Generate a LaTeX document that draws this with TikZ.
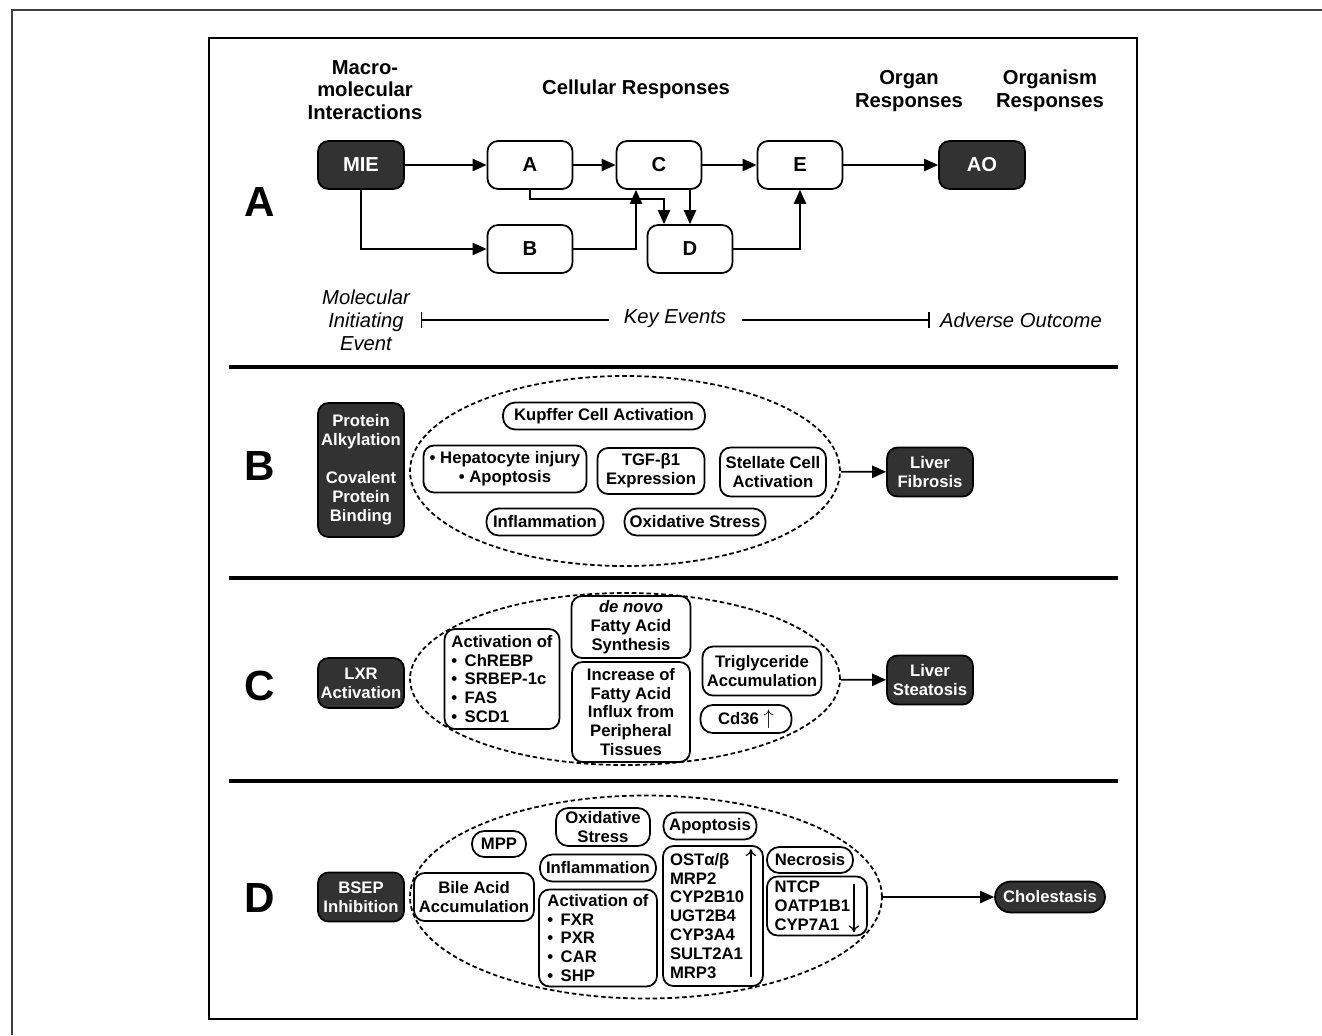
\documentclass[tikz,border=0pt]{standalone}
\usepackage{fontspec}
\setmainfont{Liberation Sans}
\usetikzlibrary{shapes.geometric,arrows.meta,positioning,calc}
\definecolor{boxgray}{RGB}{50,50,50}

\begin{document}
\begin{tikzpicture}[
    x=0.02cm, y=-0.02cm,
    every node/.style = {inner sep=1pt},
    wh/.style 2 args = {minimum width=#1*0.02cm, minimum height=#2*0.02cm},
    hdr/.style = {font=\fontsize{11.5}{13}\selectfont\bfseries, align=center},
    note/.style = {font=\fontsize{11.5}{13}\selectfont\itshape, align=center},
    panel/.style = {font=\fontsize{24}{26}\selectfont\bfseries},
    big/.style = {font=\fontsize{11.5}{13}\selectfont\bfseries},
    small/.style = {font=\fontsize{9.5}{10.8}\selectfont\bfseries},
    mie/.style = {draw=black, fill=boxgray, text=white, rounded corners=6pt, line width=1pt, align=center},
    ke/.style = {draw=black, fill=white, rounded corners=6pt, line width=1pt, align=center},
    pill/.style = {ke, rounded corners=7pt},
    group/.style = {ellipse, draw, dash pattern=on 2.6pt off 1.6pt, line width=1pt, inner sep=0pt},
    flow/.style = {-{Triangle[length=8pt,width=7pt]}, line width=1pt},
    span/.style = {line width=1pt},
    updown/.style = {-{To[length=4pt,width=6pt]}, line width=0.7pt},
    sep/.style = {line width=2pt}
    ]
    \useasboundingbox (0,0) rectangle (1322,1035);
    \draw[line width=0.8pt, draw=black!75] (12,1035) -- (12,10) -- (1322,10);
    \draw[line width=1.2pt] (209,38) rectangle (1137,1019);

    % A
    \node[panel] (labA) at (260,202) {A};
    \node[hdr] (h1) at (365,90) {Macro-\\molecular\\Interactions};
    \node[hdr] (h2) at (636,89) {Cellular Responses};
    \node[hdr] (h3) at (909,91) {Organ\\Responses};
    \node[hdr] (h4) at (1050,91) {Organism\\Responses};
    \node[mie, big, wh={86}{48}] (mie) at (361,165) {MIE};
    \node[ke, big, wh={85}{48}] (a) at (530,165) {A};
    \node[ke, big, wh={85}{48}] (c) at (659,165) {C};
    \node[ke, big, wh={85}{48}] (e) at (800,165) {E};
    \node[mie, big, wh={86}{48}] (ao) at (982,165) {AO};
    \node[ke, big, wh={85}{48}] (b) at (530,249) {B};
    \node[ke, big, wh={85}{48}] (d) at (690,249) {D};
    \node[note] (mielbl) at (366,320) {Molecular\\Initiating\\Event};
    \node[note] (kelbl) at (675,319) {Key Events};
    \node[note, anchor=west] (aolbl) at (938,320) {Adverse Outcome};

    \draw[flow] (mie) -- (a);
    \draw[flow] (mie) |- (b);
    \draw[flow] (a) -- (c);
    \draw[flow] (c) -- (e);
    \draw[flow] (e) -- (ao);
    \draw[flow] (a.south) -- ++(0,9) -| ([xshift=-0.52cm]d.north);
    \draw[flow] (c.south -| d.north) -- (d.north);
    \draw[flow] (b.east) -| ([xshift=-0.46cm]c.south);
    \draw[flow] (d.east) -| (e.south);
    \draw[span, {Bar[width=9pt]}-, shorten <=5pt, shorten >=7.4pt] (mielbl.east) -- (mielbl.east -| kelbl.west);
    \draw[span, -{Bar[width=9pt]}, shorten <=8pt, shorten >=4.5pt] (kelbl.east |- aolbl.west) -- (aolbl.west);

    \draw[sep] (229,367) -- (1118,367);
    \draw[sep] (229,578) -- (1118,578);
    \draw[sep] (229,781) -- (1118,781);

    % B
    \node[panel] (labB) at (260,466) {B};
    \node[mie, small, wh={86}{134}] (alk) at (361,470) {Protein\\Alkylation\\[10.8pt]Covalent\\Protein\\Binding};
    \node[group, wh={430}{190}] (grpB) at (625,471) {};
    \node[pill, small, wh={202}{27}] (kup) at (604,416) {Kupffer Cell Activation};
    \node[ke, small, wh={163}{47}] (hep) at (505,469) {• Hepatocyte injury\\• Apoptosis};
    \node[ke, small, wh={107}{46}] (tgf) at (651,471) {TGF-β1\\Expression};
    \node[ke, small, wh={106}{49}] (stel) at (773,472) {Stellate Cell\\Activation};
    \node[pill, small, wh={117}{27}] (infl) at (545,522) {Inflammation};
    \node[pill, small, wh={141}{27}] (oxs) at (695,522) {Oxidative Stress};
    \node[mie, small, wh={86}{49}] (fib) at (930,472) {Liver\\Fibrosis};
    \draw[flow] (grpB) -- (fib);

    % C
    \node[panel] (labC) at (260,686) {C};
    \node[mie, small, wh={86}{50}] (lxr) at (361,683) {LXR\\Activation};
    \node[group, wh={430}{172}] (grpC) at (625,679) {};
    \node[ke, small, wh={115}{100}, align=left] (actC) at (502,679) {Activation of\\•\, ChREBP\\•\, SRBEP-1c\\•\, FAS\\•\, SCD1};
    \node[ke, small, wh={119}{62}] (dnv) at (631,627) {\textit{de novo}\\Fatty Acid\\Synthesis};
    \node[ke, small, wh={118}{100}] (inc) at (631,712) {Increase of\\Fatty Acid\\Influx from\\Peripheral\\Tissues};
    \node[ke, small, wh={119}{49}] (tri) at (762,671) {Triglyceride\\Accumulation};
    \node[pill, small, wh={91}{28}] (cd) at (746,719) {Cd36 {\fontsize{13}{13}\selectfont$\uparrow$}};
    \node[mie, small, wh={86}{49}] (ste) at (930,680) {Liver\\Steatosis};
    \draw[flow] (grpC) -- (ste);

    % D
    \node[panel] (labD) at (260,898) {D};
    \node[mie, small, wh={86}{49}] (bsep) at (361,897) {BSEP\\Inhibition};
    \node[group, wh={472}{203}] (grpD) at (646,897) {};
    \node[pill, small, wh={54}{26}] (mpp) at (499,844) {MPP};
    \node[pill, small, wh={94}{38}] (oxD) at (603,827) {Oxidative\\Stress};
    \node[pill, small, wh={93}{27}] (apo) at (710,826) {Apoptosis};
    \node[pill, small, wh={116}{27}] (inflD) at (598,868) {Inflammation};
    \node[ke, small, wh={120}{48}] (bile) at (474,897) {Bile Acid\\Accumulation};
    \node[ke, small, wh={118}{97}, align=left] (actD) at (598,938) {Activation of\\•\, FXR\\•\, PXR\\•\, CAR\\•\, SHP};
    \node[ke, small, wh={100}{140}, align=left, text width=1.72cm] (upr) at (713,916) {OSTα/β\\MRP2\\CYP2B10\\UGT2B4\\CYP3A4\\SULT2A1\\MRP3};
    \node[pill, small, wh={86}{26}] (nec) at (810,860) {Necrosis};
    \node[ke, small, wh={100}{59}, align=left, text width=1.7cm] (dnr) at (817,906) {NTCP\\OATP1B1\\CYP7A1};
    \node[mie, small, wh={110}{31}, rounded corners=9pt] (cho) at (1050,897) {Cholestasis};
    \draw[updown] ($(upr.south east)+(-13,-10)$) -- ($(upr.north east)+(-13,4)$);
    \draw[updown] ($(dnr.north east)+(-14,8)$) -- ($(dnr.south east)+(-14,-4)$);
    \draw[flow] (grpD) -- (cho);
\end{tikzpicture}
\end{document}
